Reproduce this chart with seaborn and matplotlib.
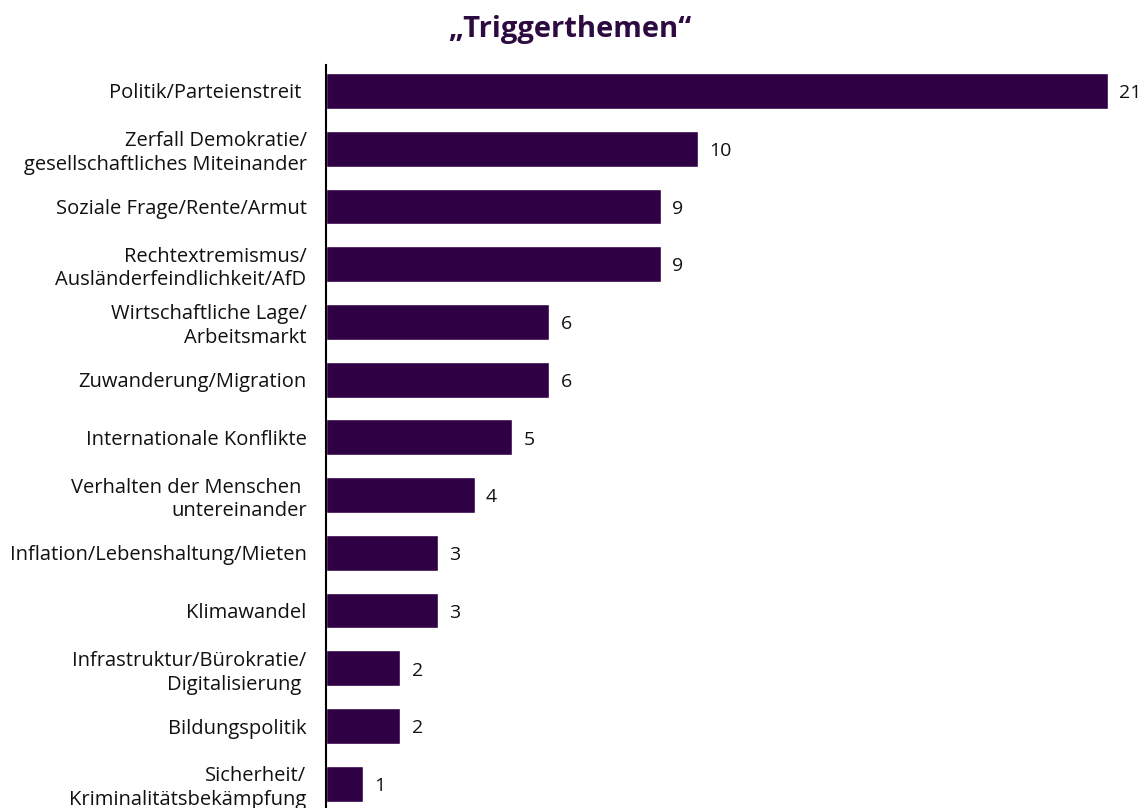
import matplotlib
matplotlib.use("Agg")
import matplotlib.pyplot as plt
import seaborn as sns
import pandas as pd

categories = [
    "Politik/Parteienstreit ",
    "Zerfall Demokratie/\ngesellschaftliches Miteinander",
    "Soziale Frage/Rente/Armut",
    "Rechtextremismus/\nAusländerfeindlichkeit/AfD",
    "Wirtschaftliche Lage/\nArbeitsmarkt",
    "Zuwanderung/Migration",
    "Internationale Konflikte",
    "Verhalten der Menschen \nuntereinander",
    "Inflation/Lebenshaltung/Mieten",
    "Klimawandel",
    "Infrastruktur/Bürokratie/\nDigitalisierung ",
    "Bildungspolitik",
    "Sicherheit/\nKriminalitätsbekämpfung",
]
values = [21, 10, 9, 9, 6, 6, 5, 4, 3, 3, 2, 2, 1]
title = "„Triggerthemen“"

bar_color = "#300045"
title_color = "#2d0a3f"
text_color = "#111111"

sns.set_theme(style="white")
plt.rcParams["font.family"] = ["Open Sans", "DejaVu Sans"]

df = pd.DataFrame({"Thema": categories, "Anzahl": values})

fig = plt.figure(figsize=(11.43, 8.08), dpi=100)
ax = fig.add_axes([326 / 1143, 0, (1108 - 326) / 1143, (808 - 65) / 808])

sns.barplot(data=df, x="Anzahl", y="Thema", color=bar_color, saturation=1,
            width=0.62, ax=ax, orient="h")

ax.set_xlim(0, 21)
ax.set_ylim(12.42, -0.45)
ax.set_xlabel("")
ax.set_ylabel("")
ax.set_xticks([])
for side in ["top", "right", "bottom"]:
    ax.spines[side].set_visible(False)
ax.spines["left"].set_color("black")
ax.spines["left"].set_linewidth(1.5)
ax.tick_params(axis="y", length=0, pad=14, labelsize=14.5, labelcolor=text_color)
for lbl in ax.get_yticklabels():
    lbl.set_horizontalalignment("right")
    lbl.set_multialignment("right")
    lbl.set_linespacing(1.25)

for i, v in enumerate(values):
    ax.text(v + 0.3, i + 0.04, str(v), va="center", ha="left", fontsize=14,
            color=text_color, clip_on=False)

fig.text(570 / 1143, 1 - 30 / 808, title, ha="center", va="center",
         fontsize=21, fontweight="bold", color=title_color)

fig.savefig("out.png", dpi=100)
